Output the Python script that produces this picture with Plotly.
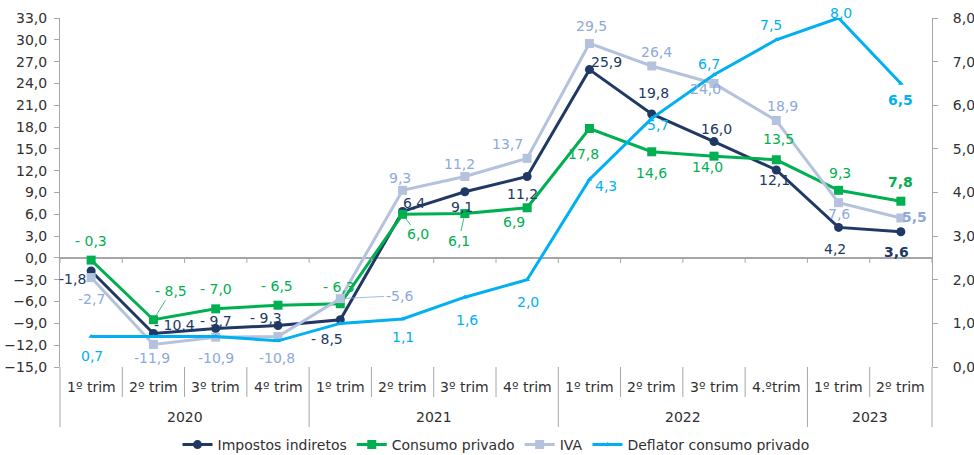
import plotly.graph_objects as go

# Quarterly year-on-year rates (%)
years = ["2020", "2021", "2022", "2023"]
quarters = ["1º trim", "2º trim", "3º trim", "4º trim",
            "1º trim", "2º trim", "3º trim", "4º trim",
            "1º trim", "2º trim", "3º trim", "4.ºtrim",
            "1º trim", "2º trim"]
quarters_per_year = [4, 4, 4, 2]

impostos_indiretos = [-1.8, -10.4, -9.7, -9.3, -8.5, 6.4, 9.1, 11.2, 25.9, 19.8, 16.0, 12.1, 4.2, 3.6]
consumo_privado = [-0.3, -8.5, -7.0, -6.5, -6.3, 6.0, 6.1, 6.9, 17.8, 14.6, 14.0, 13.5, 9.3, 7.8]
iva = [-2.7, -11.9, -10.9, -10.8, -5.6, 9.3, 11.2, 13.7, 29.5, 26.4, 24.0, 18.9, 7.6, 5.5]
deflator = [0.7, 0.7, 0.7, 0.6, 1.0, 1.1, 1.6, 2.0, 4.3, 5.7, 6.7, 7.5, 8.0, 6.5]

left_ticks = [-15 + 3 * k for k in range(17)]
right_ticks = [k for k in range(9)]

NAVY = "#203864"
GREEN = "#00B050"
LIGHT = "#B4C2DD"
LIGHT_TXT = "#8EA9DB"
BLUE = "#00B0F0"
GRID = "#A6A6A6"
TXT = "#303030"
FONT = "DejaVu Sans"

n = len(quarters)
xs = list(range(n))

fig = go.Figure()
fig.add_trace(go.Scatter(x=xs, y=impostos_indiretos, name="Impostos indiretos", mode="lines+markers",
                         line=dict(color=NAVY, width=3), marker=dict(symbol="circle", size=9, color=NAVY)))
fig.add_trace(go.Scatter(x=xs, y=consumo_privado, name="Consumo privado", mode="lines+markers",
                         line=dict(color=GREEN, width=3), marker=dict(symbol="square", size=9, color=GREEN)))
fig.add_trace(go.Scatter(x=xs, y=iva, name="IVA", mode="lines+markers",
                         line=dict(color=LIGHT, width=3), marker=dict(symbol="square", size=9, color=LIGHT)))
fig.add_trace(go.Scatter(x=xs, y=deflator, name="Deflator consumo privado", mode="lines+markers",
                         line=dict(color=BLUE, width=3), marker=dict(symbol="triangle-up", size=5, color=BLUE),
                         yaxis="y2"))


def fmt(v, spaced):
    s = f"{abs(v):.1f}".replace(".", ",")
    if v < 0:
        return ("- " if spaced else "-") + s
    return s


# label offsets in px (dx right, dy down); None = no label; True in 3rd slot = leader line
navy_off = [(-19, 8), (21, -9), (0, -7), (-12, -8), (-13, 19), (11, -8), (-3, 15), (-5, 17),
            (17, -8), (2, -21), (2, -13), (-2, 10), (-4, 22), (-4, 20)]
green_off = [(0, -19), (18, -29, True), (0, -20), (-1, -19), (-1, -17), (15, 20, True), (-6, 27, True),
             (-13, 14), (-6, 25), (0, 21), (-7, 11), (2, -21), (1, -17), (0, -19)]
iva_off = [(0, 21), (-1, 14), (0, 21), (-1, 22), (59, -3, True), (-3, -12), (-5, -13), (-20, -14),
           (2, -17), (5, -14), (-9, 6), (6, -15), (0, 11), (14, -1)]
defl_off = [(1, 20), None, None, None, None, (0, 18), (2, 23), (1, 22), (17, 7), (6, 7),
            (-5, -11), (-5, -15), (2, -5), (0, 17)]

annotations = []


def add_labels(vals, offs, color, yref, spaced, first_plain=False):
    for i, (v, off) in enumerate(zip(vals, offs)):
        if off is None:
            continue
        dx, dy = off[0], off[1]
        leader = len(off) > 2
        txt = fmt(v, spaced and not (first_plain and i == 0))
        if i == n - 1:
            txt = f"<b>{txt}</b>"
        a = dict(x=i, y=v, xref="x", yref=yref, text=txt, xanchor="center", yanchor="middle",
                 font=dict(family=FONT, size=14, color=color))
        if leader:
            a.update(showarrow=True, ax=dx, ay=dy, arrowhead=0, arrowwidth=0.8,
                     arrowcolor=color, standoff=5)
        else:
            a.update(showarrow=False, xshift=dx, yshift=-dy)
        annotations.append(a)


add_labels(impostos_indiretos, navy_off, NAVY, "y", True, first_plain=True)
add_labels(consumo_privado, green_off, GREEN, "y", True)
add_labels(iva, iva_off, LIGHT_TXT, "y", False)
add_labels(deflator, defl_off, BLUE, "y2", False)

# category labels below the plot
plot_h = 349.0
q_y = -20 / plot_h
yr_y = -50 / plot_h
for i, q in enumerate(quarters):
    annotations.append(dict(x=(i + 0.5) / n, y=q_y, xref="paper", yref="paper", text=q,
                            xanchor="center", yanchor="middle", showarrow=False,
                            font=dict(family=FONT, size=14, color=TXT)))
start = 0
year_bounds = [0]
for yname, cnt in zip(years, quarters_per_year):
    annotations.append(dict(x=(start + cnt / 2) / n, y=yr_y, xref="paper", yref="paper", text=yname,
                            xanchor="center", yanchor="middle", showarrow=False,
                            font=dict(family=FONT, size=14, color=TXT)))
    start += cnt
    year_bounds.append(start)

shapes = []
zero_frac = (0 - left_ticks[0]) / (left_ticks[-1] - left_ticks[0])
for b in range(n + 1):
    bottom = -60 / plot_h if b in year_bounds else -30 / plot_h
    shapes.append(dict(type="line", xref="paper", yref="paper", x0=b / n, x1=b / n, y0=0, y1=bottom,
                       line=dict(color=GRID, width=1)))
    # small ticks below the zero line
    shapes.append(dict(type="line", xref="paper", yref="paper", x0=b / n, x1=b / n,
                       y0=zero_frac, y1=zero_frac - 5 / plot_h, line=dict(color=GRID, width=1)))

fig.update_layout(
    width=974, height=455,
    margin=dict(l=60, r=42, t=18, b=88, autoexpand=False),
    paper_bgcolor="white", plot_bgcolor="white",
    separators=",.",
    font=dict(family=FONT, size=14, color=TXT),
    showlegend=True,
    legend=dict(orientation="h", x=0.5, xanchor="center", y=-78 / plot_h, yanchor="middle",
                font=dict(family=FONT, size=14, color=TXT), itemwidth=30, traceorder="normal",
                entrywidth=0),
    xaxis=dict(range=[-0.5, n - 0.5], showticklabels=False, showgrid=False, zeroline=False,
               showline=False, ticks=""),
    yaxis=dict(range=[left_ticks[0], left_ticks[-1]], tickvals=left_ticks, tickformat=".1f",
               showgrid=False, zeroline=True, zerolinecolor=GRID, zerolinewidth=1.5,
               showline=True, linecolor=GRID, linewidth=1, ticks="outside", ticklen=5,
               tickcolor=GRID, ticklabelstandoff=4, tickfont=dict(family=FONT, size=14, color=TXT)),
    yaxis2=dict(range=[right_ticks[0], right_ticks[-1]], tickvals=right_ticks, tickformat=".1f",
                overlaying="y", side="right", showgrid=False, zeroline=False,
                showline=True, linecolor=GRID, linewidth=1, ticks="outside", ticklen=5,
                tickcolor=GRID, ticklabelstandoff=12, tickfont=dict(family=FONT, size=14, color=TXT)),
    annotations=annotations,
    shapes=shapes,
)

fig.write_html("out.html")
